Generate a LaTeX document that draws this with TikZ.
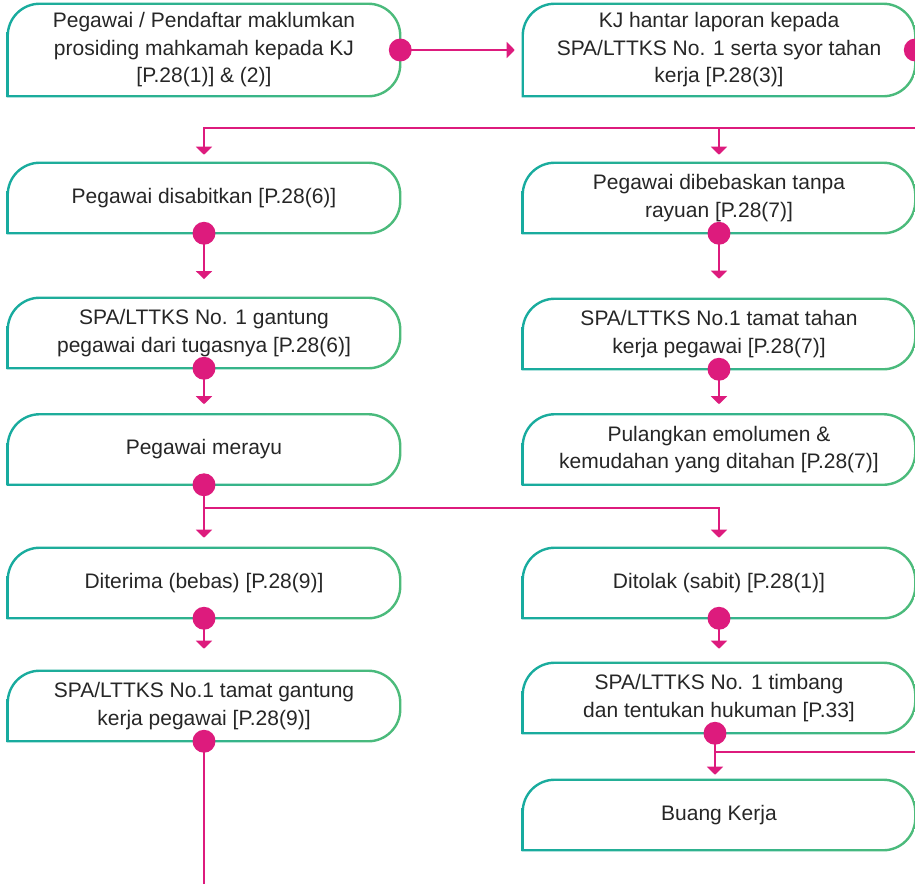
\documentclass[tikz,border=0pt]{standalone}
\usepackage{fontspec}
\setmainfont{Liberation Sans}
\usepackage{tikz}
\usetikzlibrary{arrows.meta,calc}

\definecolor{tealc}{HTML}{17AB9F}
\definecolor{greenc}{HTML}{4DBB7A}
\definecolor{pinkc}{HTML}{DD1B7D}
\definecolor{textc}{HTML}{262626}

\tikzset{
  stepbox/.style={rectangle,inner sep=0pt,minimum width=294pt,minimum height=52.5pt,align=center,text=textc,
    font=\fontsize{15.75pt}{20.6pt}\selectfont},
  tallbox/.style={stepbox,minimum height=69pt},
  link/.style={pinkc,line width=1.5pt,-{Triangle[width=12pt,length=6pt]}},
  plainlink/.style={pinkc,line width=1.5pt}
}

\newcommand\boxpath[2]{([shift={({-(#2)},{-(#2)})}]#1.south west) -- ([shift={({-(#2)},-\rad)}]#1.north west)
  arc[start angle=180,end angle=90,radius=\rad+(#2)] -- ([shift={(-\rad,{#2})}]#1.north east)
  arc[start angle=90,end angle=0,radius=\rad+(#2)] -- ([shift={({#2},\rad)}]#1.south east)
  arc[start angle=0,end angle=-90,radius=\rad+(#2)] -- cycle}

\begin{document}
\begin{tikzpicture}[x=0.75pt,y=-0.75pt]
\def\rad{24pt}
\useasboundingbox (0,0) rectangle (915,883);

\node[tallbox] (L1) at (204,50) {Pegawai / Pendaftar maklumkan\\prosiding mahkamah kepada KJ\\{[P.28(1)] \& (2)]}};
\node[tallbox] (R1) at (719,50) {KJ hantar laporan kepada\\SPA/LTTKS No. 1 serta syor tahan\\kerja [P.28(3)]};
\node[stepbox] (L2) at (204,198) {Pegawai disabitkan [P.28(6)]};
\node[stepbox] (R2) at (719,198) {Pegawai dibebaskan tanpa\\rayuan [P.28(7)]};
\node[stepbox] (L3) at (204,333) {SPA/LTTKS No. 1 gantung\\pegawai dari tugasnya [P.28(6)]};
\node[stepbox] (R3) at (719,334) {SPA/LTTKS No.1 tamat tahan\\kerja pegawai [P.28(7)]};
\node[stepbox] (L4) at (204,449.5) {Pegawai merayu};
\node[stepbox] (R4) at (719,449.5) {Pulangkan emolumen \&\\kemudahan yang ditahan [P.28(7)]};
\node[stepbox] (L5) at (204,583) {Diterima (bebas) [P.28(9)]};
\node[stepbox] (R5) at (719,583) {Ditolak (sabit) [P.28(1)]};
\node[stepbox] (L6) at (204,706) {SPA/LTTKS No.1 tamat gantung\\kerja pegawai [P.28(9)]};
\node[stepbox] (R6) at (719,698) {SPA/LTTKS No. 1 timbang\\dan tentukan hukuman [P.33]};
\node[stepbox] (R7) at (719,815) {Buang Kerja};

\foreach \n in {L1,R1,L2,R2,L3,R3,L4,R4,L5,R5,L6,R6,R7}
  \shade[left color=tealc,right color=greenc,even odd rule] \boxpath{\n}{0.9pt} \boxpath{\n}{-0.9pt};

\coordinate (bus1) at (0,128);
\coordinate (bus2) at (0,508);
\coordinate (bus3) at (0,752);
\coordinate (edge) at (935,0);
\coordinate (foot) at (204,890);
\coordinate (R6out) at ([xshift=-3pt]R6.south);

\draw[link,shorten >=6pt] (L1.east) -- (R1.west);
\draw[link,shorten >=6pt] (R1.east) -| (edge |- bus1) -- (L2.north |- bus1) -- (L2.north);
\draw[link,shorten >=6pt] (R2.north |- bus1) -- (R2.north);
\draw[link,shorten >=14pt] (L2.south) -- (L3.north);
\draw[link,shorten >=15pt] (R2.south) -- (R3.north);
\draw[link,shorten >=7.5pt] (L3.south) -- (L4.north);
\draw[link,shorten >=7.5pt] (R3.south) -- (R4.north);
\draw[link,shorten >=7.5pt] (L4.south) -- (L5.north);
\draw[link,shorten >=7.5pt] (L4.south |- bus2) -| (R5.north);
\draw[link,shorten >=16.5pt] (L5.south) -- (L6.north);
\draw[link,shorten >=10.5pt] (R5.south) -- (R6.north);
\draw[link,shorten >=3.75pt] (R6out) -- (R6out |- R7.north);
\draw[plainlink] (R6out |- bus3) -- (bus3 -| edge);
\draw[plainlink] (L6.south) -- (foot);

\foreach \a in {L1.east,R1.east,L2.south,R2.south,L3.south,R3.south,L4.south,L5.south,R5.south,L6.south,R6out}
  \fill[pinkc] (\a) circle[radius=8.6pt];
\end{tikzpicture}
\end{document}
